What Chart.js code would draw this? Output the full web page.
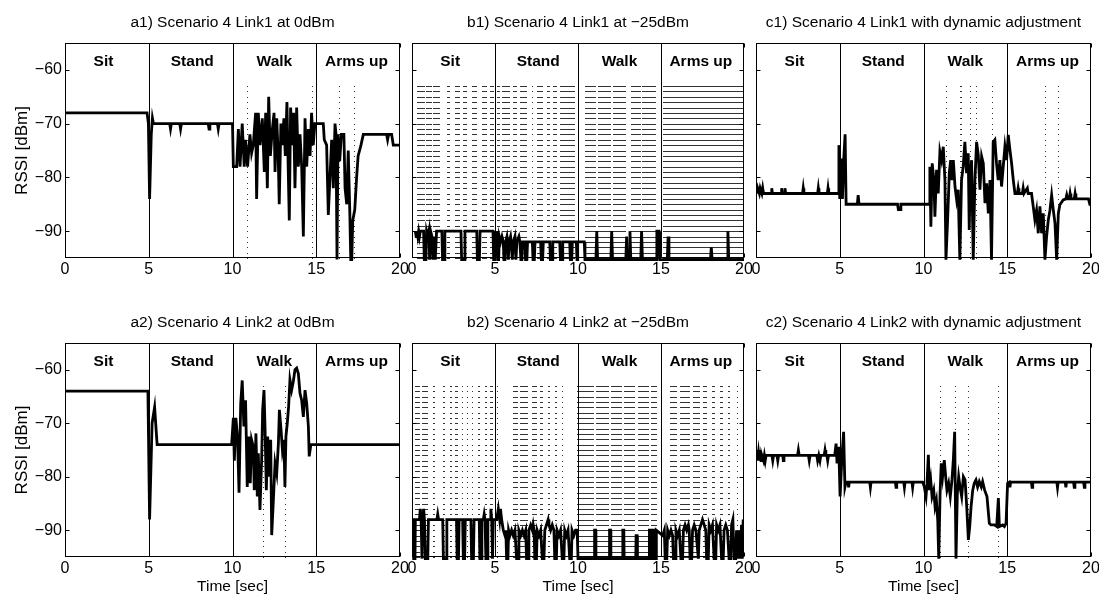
<!DOCTYPE html>
<html>
<head>
<meta charset="utf-8">
<title>Scenario 4 RSSI</title>
<script src="https://cdn.jsdelivr.net/npm/chart.js@4.4.1/dist/chart.umd.min.js"></script>
<style>
  html, body { margin: 0; padding: 0; background: #fff; overflow: hidden; }
  #fig { position: relative; width: 1099px; height: 602px; }
  #fig canvas { position: absolute; }
</style>
</head>
<body>
<div id="fig">
  <canvas id="a1"></canvas>
  <canvas id="b1"></canvas>
  <canvas id="c1"></canvas>
  <canvas id="a2"></canvas>
  <canvas id="b2"></canvas>
  <canvas id="c2"></canvas>
</div>
<script>
// ── Axes / phases ──
const xTicks = [0, 5, 10, 15, 20];
const yTicks = [-90, -80, -70, -60];
const yMin = -95;
const yMax = -55;
const phaseEdges = [5, 10, 15];
const phaseNames = ["Sit", "Stand", "Walk", "Arms up"];
const phaseLabelX = [2.3, 7.6, 12.5, 17.4];
const phaseLabelY = -58.5;
const lossTop = -63; // packet-loss markers run from here to the bottom
const L = -95.3;     // lost sample (just under the axis)

// ── RSSI traces: [time sec, dBm] ──
const a1Trace = [
  [0, -68], [4.9, -68], [4.98, -70], [5.05, -84], [5.1, -78], [5.15, -72], [5.22, -69], [5.28, -70],
  [6.25, -70], [6.3, -71], [6.35, -70], [6.85, -70], [6.9, -71], [6.95, -70], [8.55, -70], [8.6, -71],
  [8.65, -70], [9.1, -70], [9.15, -71], [9.2, -70], [10.0, -70], [10.05, -78], [10.25, -78], [10.35, -71],
  [10.45, -78], [10.58, -70], [10.7, -78], [10.78, -73], [10.9, -78], [11.04, -72], [11.14, -75.5],
  [11.24, -74], [11.38, -68], [11.44, -84], [11.54, -68], [11.64, -74], [11.78, -69], [11.9, -79],
  [11.98, -68], [12.08, -82], [12.16, -65], [12.26, -76], [12.38, -71], [12.48, -68], [12.54, -79],
  [12.64, -69], [12.73, -76], [12.79, -85], [12.89, -70], [12.97, -74], [13.07, -69], [13.15, -76],
  [13.25, -66], [13.33, -79], [13.39, -88], [13.47, -67], [13.57, -74], [13.65, -68], [13.73, -82],
  [13.83, -67], [13.93, -78], [14.03, -72], [14.13, -78], [14.23, -91], [14.33, -69], [14.43, -78],
  [14.53, -71], [14.63, -76], [14.72, -68], [14.82, -74], [14.92, -70], [15.0, -70], [15.42, -70],
  [15.48, -73], [15.62, -74], [15.72, -87], [15.82, -80], [15.92, -73], [16.02, -82], [16.12, -70],
  [16.18, -72], [16.24, L], [16.3, -72], [16.4, -77], [16.5, -72], [16.65, -72], [16.72, -82],
  [16.82, -85], [16.91, -75], [17.0, -86], [17.06, L], [17.12, L], [17.18, -88], [17.3, -86],
  [17.41, -80], [17.5, -76], [17.67, -74], [17.81, -72], [19.2, -72], [19.26, -73], [19.32, -72],
  [19.5, -72], [19.6, -74], [20, -74]
];

const b1Trace = [
  [0.2, -90], [0.25, -91], [0.3, -90], [0.35, -91], [0.4, -90], [0.45, -91], [0.5, -90], [0.7, -90],
  [0.74, L], [0.84, L], [0.88, -90], [0.96, -91], [1.02, -90], [1.06, L], [1.12, -90], [1.2, -91],
  [1.26, L], [1.34, -91], [1.4, L], [1.48, -90], [1.8, -90], [1.84, L], [1.94, L], [1.98, -90],
  [2.95, -90], [2.99, L], [3.15, L], [3.19, -90], [3.9, -90], [3.94, L], [4.06, L], [4.1, -90],
  [4.88, -90], [4.92, L], [4.98, L], [5.02, -90], [5.08, -92], [5.12, -90], [5.16, L], [5.22, L],
  [5.26, -91], [5.34, -92], [5.42, -91], [5.5, -92], [5.54, L], [5.6, L], [5.64, -92], [5.72, -91],
  [5.76, -92], [5.8, L], [5.86, -92], [5.94, -91], [5.98, -92], [6.04, L], [6.1, -92], [6.2, -91],
  [6.26, L], [6.32, -92], [6.44, -91], [6.5, -92], [6.56, L], [6.62, L], [6.66, -92], [6.8, -92],
  [6.84, L], [6.92, L], [6.96, -92], [7.25, -92], [7.29, L], [7.37, L], [7.41, -92], [7.75, -92],
  [7.79, L], [7.87, L], [7.91, -92], [8.3, -92], [8.34, L], [8.44, L], [8.48, -92], [8.9, -92],
  [8.94, L], [9.04, L], [9.08, -92], [9.5, -92], [9.54, L], [9.62, L], [9.66, -92], [9.9, -92],
  [9.94, L], [9.98, -92], [10.38, -92], [10.42, L], [11.08, L], [11.13, -90], [11.18, L], [11.98, L],
  [12.03, -90], [12.08, L], [12.88, L], [12.93, -91], [12.98, L], [13.08, L], [13.13, -90], [13.18, L],
  [13.78, L], [13.83, -90], [13.88, L], [14.7, L], [14.75, -90], [14.88, -90], [14.93, L], [15.38, L],
  [15.43, -91], [15.48, L], [17.98, L], [18.03, -93], [18.08, L], [18.98, L], [19.03, -90], [19.08, L],
  [20, L]
];

const c1Trace = [
  [0, -82], [0.05, -83], [0.1, -82], [0.2, -83], [0.25, -82], [0.35, -83], [0.4, -82], [0.45, -83],
  [0.9, -83], [0.94, -82], [0.98, -83], [1.5, -83], [1.53, -82], [1.57, -83], [1.7, -83], [1.73, -82],
  [1.77, -83], [2.78, -83], [2.82, -82], [2.86, -83], [3.68, -83], [3.72, -82], [3.76, -83], [4.26, -83],
  [4.3, -82], [4.34, -83], [4.92, -83], [4.95, -74], [5.0, -84], [5.08, -76.5], [5.16, -84], [5.24, -76.5],
  [5.32, -72], [5.38, -85], [6.05, -85], [6.1, -83.3], [6.15, -85], [8.45, -85], [8.5, -86], [8.6, -86],
  [8.65, -85], [10.36, -85], [10.38, -78], [10.44, -89.2], [10.52, -77.4], [10.62, -80.5], [10.68, -87.3],
  [10.78, -78.6], [10.88, -83], [10.98, -75.2], [11.08, -76.8], [11.18, -74.3], [11.28, -80.5], [11.34, L],
  [11.44, -87.9], [11.54, -79.2], [11.62, -76.8], [11.7, -80.5], [11.78, -76.8], [11.88, -81.7],
  [11.98, -84.2], [12.07, -82.3], [12.17, L], [12.27, -80.5], [12.37, -78], [12.47, -73.4], [12.57, -79.2],
  [12.67, -75.5], [12.73, -89.8], [12.79, -79.9], [12.87, -76.8], [12.97, L], [13.07, -80.5], [13.17, -73.4],
  [13.27, -75.8], [13.37, -82.3], [13.47, -76.1], [13.57, -77.4], [13.67, -84.8], [13.77, -81.1],
  [13.87, -86.7], [13.97, -80.5], [14.06, L], [14.16, -73.4], [14.26, -73], [14.36, -77.4], [14.46, -80.5],
  [14.56, -76.8], [14.66, -81.7], [14.76, -78], [14.86, -74.3], [14.96, -76.8], [15.06, -72.1],
  [15.16, -74.9], [15.26, -77.4], [15.36, -80.5], [15.46, -83], [15.6, -83], [15.65, -82], [15.7, -83],
  [15.9, -83], [15.95, -82], [16.0, -83], [16.2, -82], [16.25, -83], [16.45, -83], [16.55, -85.4],
  [16.65, -87.9], [16.75, -86.1], [16.85, -90.4], [16.95, -85.4], [17.05, -90.4], [17.15, -86.7],
  [17.25, L], [17.35, -91], [17.45, -87.9], [17.55, -86.1], [17.65, -83.3], [17.75, -86.1], [17.85, -88.5],
  [17.95, L], [18.05, -86.7], [18.14, -85.1], [18.34, -84.2], [18.5, -84], [18.55, -83.3], [18.6, -84],
  [18.7, -84], [18.75, -83], [18.8, -84], [19.0, -84], [19.05, -83], [19.1, -84], [19.85, -84],
  [19.93, -85], [20, -85]
];

const a2Trace = [
  [0, -64], [4.95, -64], [5.05, -88], [5.2, -70], [5.35, -67], [5.5, -74], [9.95, -74], [10.05, -69],
  [10.11, -77], [10.2, -69], [10.3, -72.5], [10.39, -83], [10.49, -66.3], [10.58, -62], [10.68, -70.6],
  [10.78, -65.7], [10.88, -81.9], [10.98, -72.5], [11.06, -81.2], [11.14, -73.1], [11.24, -74.4],
  [11.3, -82.5], [11.4, -71.9], [11.48, -83.7], [11.54, -75.6], [11.64, -86.2], [11.74, -76.9],
  [11.8, -67.5], [11.88, -63.8], [11.94, -70.6], [12.02, -82.5], [12.1, -72.5], [12.2, -80], [12.28, -73.1],
  [12.34, -90.9], [12.44, -84.4], [12.54, -77.5], [12.64, -79.4], [12.74, -73.8], [12.8, -67.5],
  [12.9, -71.3], [12.98, -75], [13.07, -73.1], [13.13, -81.9], [13.19, -72.5], [13.27, -70], [13.35, -66.9],
  [13.43, -61.9], [13.53, -63.8], [13.63, -62.2], [13.73, -60], [13.83, -59.7], [13.93, -60.7],
  [14.03, -64.4], [14.13, -65.7], [14.23, -68.8], [14.33, -63.8], [14.43, -66.3], [14.53, -70.6],
  [14.58, -76.2], [14.68, -74], [20, -74]
];

const b2Trace = [
  [0, -88], [0.08, -88], [0.1, L], [0.18, L], [0.2, -88], [0.45, -88], [0.5, -86], [0.55, -88], [0.6, L],
  [0.64, -88], [0.7, -86], [0.75, -88], [0.8, L], [0.95, L], [0.99, -88], [1.5, -88], [1.55, -87],
  [1.6, -88], [1.85, -88], [1.89, L], [2.06, L], [2.1, -88], [2.68, -88], [2.72, L], [2.8, L], [2.84, -88],
  [3.05, -88], [3.09, L], [3.17, L], [3.21, -88], [3.55, -88], [3.59, L], [3.7, L], [3.74, -88],
  [4.05, -88], [4.09, L], [4.17, L], [4.21, -88], [4.3, -88], [4.35, -87], [4.4, -88], [4.45, L],
  [4.53, L], [4.57, -88], [4.7, -88], [4.75, -86], [4.8, -88], [4.85, L], [4.9, -88], [5.1, -88],
  [5.2, -86], [5.28, -88], [5.33, -86], [5.4, -88], [5.5, -90], [5.6, -91], [5.65, -90], [5.7, L],
  [5.78, L], [5.82, -90], [5.9, -91], [6.0, -90], [6.1, -91], [6.2, -90], [6.3, L], [6.4, L], [6.44, -90],
  [6.55, -91], [6.65, -90], [6.75, -91], [6.85, -90], [6.9, L], [7.0, L], [7.04, -90], [7.15, -89],
  [7.25, -90], [7.3, -89], [7.35, -90], [7.4, L], [7.5, L], [7.54, -90], [7.65, -91], [7.75, -90],
  [7.85, L], [7.95, L], [8.0, -90], [8.1, -89], [8.2, -88], [8.25, -89], [8.35, -90], [8.45, -89],
  [8.55, -90], [8.6, L], [8.7, L], [8.74, -90], [8.85, -91], [8.95, -90], [9.05, L], [9.15, L], [9.2, -90],
  [9.3, -91], [9.4, -90], [9.5, L], [9.6, L], [9.64, -90], [9.75, -91], [9.85, -90], [9.95, -90],
  [10.0, L], [10.98, L], [11.0, -90], [11.06, -90], [11.08, L], [11.88, L], [11.9, -90], [11.96, -90],
  [11.98, L], [12.68, L], [12.7, -90], [12.76, -90], [12.78, L], [13.48, L], [13.5, -91], [13.56, -91],
  [13.58, L], [14.28, L], [14.3, -90], [14.36, -90], [14.38, L], [14.48, L], [14.5, -90], [14.6, -90],
  [14.62, L], [14.7, L], [14.72, -90], [15.1, -91], [15.2, -90], [15.25, L], [15.35, L], [15.4, -90],
  [15.5, -91], [15.6, -90], [15.7, -91], [15.75, L], [15.85, L], [15.9, -90], [16.0, -91], [16.1, -90],
  [16.2, L], [16.3, L], [16.35, -90], [16.45, -89], [16.55, -90], [16.65, -89], [16.7, -90], [16.75, L],
  [16.85, L], [16.9, -90], [17.0, -89], [17.1, -90], [17.25, L], [17.3, -90], [17.4, -89], [17.5, -88],
  [17.6, -89], [17.7, -90], [17.75, L], [17.85, L], [17.9, -89], [18.0, -90], [18.1, -89], [18.2, L],
  [18.3, L], [18.35, -89], [18.45, -90], [18.55, -89], [18.65, L], [18.75, L], [18.8, -90], [18.9, -89],
  [19.0, -90], [19.1, L], [19.2, L], [19.25, -89], [19.33, -88], [19.4, L], [19.5, L], [19.55, -90],
  [19.65, L], [19.72, -90], [19.8, L], [19.85, -89], [19.9, L], [19.95, -88], [20, -90]
];

const c2Trace = [
  [0, -76], [0.05, -75], [0.1, -77], [0.15, -75.5], [0.2, -77], [0.25, -75], [0.3, -77], [0.35, -76],
  [0.45, -77], [0.5, -76], [0.55, -77], [0.6, -76], [0.95, -76], [1.0, -77], [1.05, -76], [1.25, -76],
  [1.3, -77], [1.35, -76], [1.6, -76], [1.63, -77], [1.67, -76], [2.48, -76], [2.53, -75], [2.58, -76],
  [3.13, -76], [3.18, -77], [3.23, -76], [3.63, -76], [3.68, -77], [3.75, -76], [3.82, -77], [3.87, -76],
  [4.07, -76], [4.12, -75], [4.17, -76], [4.23, -76], [4.28, -77], [4.33, -76], [4.7, -76], [4.78, -73.8],
  [4.84, -77.5], [4.94, -74.4], [5.02, -83.7], [5.13, -76.3], [5.23, -71.6], [5.31, -81.9], [5.37, -81],
  [5.5, -81], [5.53, -82], [5.57, -81], [6.79, -81], [6.83, -82], [6.87, -81], [8.32, -81], [8.36, -82],
  [8.4, -81], [8.82, -81], [8.86, -82], [8.9, -81], [9.31, -81], [9.35, -82], [9.39, -81], [9.95, -81],
  [10.05, -81.9], [10.15, -83.7], [10.21, -81.2], [10.29, -75.9], [10.35, -82.5], [10.43, -80.6],
  [10.51, -83.7], [10.61, -82.5], [10.69, -85.6], [10.77, -84.4], [10.85, -88.1], [10.91, L],
  [10.99, -83.1], [11.06, -77.5], [11.14, -80], [11.24, -76.9], [11.34, -80.6], [11.4, -82.5],
  [11.5, -81.2], [11.6, -83.7], [11.7, -80.6], [11.78, -76.9], [11.86, -71.6], [11.94, L], [12.02, -83.1],
  [12.1, -80], [12.18, -81.9], [12.28, -83.7], [12.38, -80], [12.48, -80.6], [12.58, -85.6], [12.68, -91.8],
  [12.76, -89.3], [12.84, -85.6], [12.94, -82.5], [13.03, -81.2], [13.13, -80.6], [13.23, -81.9],
  [13.33, -80.9], [13.45, -81.9], [13.53, -80.9], [13.65, -82.5], [13.79, -83.7], [13.93, -88.7],
  [14.03, -89], [14.23, -89], [14.37, -89.3], [14.47, -84], [14.53, -89.3], [14.73, -89], [14.83, -89.3],
  [14.93, -88.7], [15.02, -81.2], [15.12, -81], [15.16, -82], [15.2, -81], [16.44, -81], [16.48, -82],
  [16.52, -81], [17.96, -81], [18.0, -82], [18.04, -81], [18.46, -81], [18.5, -82], [18.54, -81],
  [18.96, -81], [19.0, -82], [19.04, -81], [19.56, -81], [19.6, -82], [19.64, -81], [20, -81]
];

// ── Packet-loss intervals [start, end] in sec ──
const a1Loss = [[10.84, 10.84], [14.76, 14.76], [16.35, 16.35], [17.27, 17.27]];
const b1Loss = [
  [0.28, 0.79], [0.85, 1.19], [1.29, 1.69], [2.09, 2.29], [2.59, 2.89], [3.1, 3.3], [3.6, 3.9],
  [4.2, 4.54], [4.7, 4.94], [5.1, 5.3], [5.4, 5.9], [6.1, 6.3], [6.51, 6.91], [7.21, 7.31], [7.51, 7.91],
  [8.12, 8.32], [8.52, 8.72], [8.92, 9.82], [10.42, 11.08], [11.18, 11.98], [12.08, 12.88],
  [13.18, 13.78], [13.88, 14.7], [15.14, 20]
];
const c1Loss = [[11.32, 11.36], [12.18, 12.3], [12.77, 12.79], [13.13, 13.15], [14.06, 14.08], [17.27, 17.33], [18.0, 18.06]];
const a2Loss = [[11.84, 11.84], [13.13, 13.13]];
const b2Loss = [
  [0.18, 0.28], [0.32, 0.48], [0.59, 0.99], [1.29, 1.39], [1.89, 1.99], [2.29, 2.39], [2.59, 2.79],
  [3.0, 3.1], [3.3, 3.4], [3.6, 3.7], [4.0, 4.1], [4.4, 4.5], [4.7, 4.9], [5.1, 5.2], [6.11, 6.41],
  [6.51, 7.01], [7.21, 7.51], [7.71, 7.87], [8.22, 8.32], [8.62, 8.72], [9.02, 9.12], [9.95, 10.95],
  [11.1, 11.85], [12.0, 12.65], [12.8, 13.45], [13.6, 14.25], [14.4, 14.75], [15.55, 15.95],
  [16.15, 16.75], [16.95, 17.35], [17.55, 17.75], [18.05, 18.25], [18.56, 18.76], [19.06, 19.16],
  [19.56, 19.66]
];
const c2Loss = [[10.97, 11.03], [11.87, 11.93], [12.66, 12.7], [14.45, 14.49]];

// ── Layout (pixels) ──
const colLeft = [65, 412, 756];
const colRight = [400, 744, 1091];
const plotH = [215, 214];
const FONT = '"Liberation Sans", Arial, sans-serif';

Chart.defaults.font.family = FONT;
Chart.defaults.color = "#000";

// draws loss markers, phase separators, frame with inward ticks and panel title
const decor = {
  id: "decor",
  beforeDatasetsDraw(chart, args, opts) {
    const { ctx, chartArea: a, scales: { x, y } } = chart;
    ctx.save();
    ctx.fillStyle = "#333";
    for (const [s, e] of opts.loss) {
      const x0 = Math.round(x.getPixelForValue(s));
      const w = Math.max(1, Math.round(x.getPixelForValue(e)) - x0);
      for (let v = lossTop; v >= yMin; v--) {
        ctx.fillRect(x0, Math.round(y.getPixelForValue(v)), w, 1);
      }
    }
    ctx.strokeStyle = "#000";
    ctx.lineWidth = 1;
    for (const p of phaseEdges) {
      const px = Math.round(x.getPixelForValue(p)) + 0.5;
      ctx.beginPath();
      ctx.moveTo(px, a.top);
      ctx.lineTo(px, a.bottom);
      ctx.stroke();
    }
    ctx.font = "bold 15.5px " + FONT;
    ctx.fillStyle = "#000";
    ctx.textAlign = "center";
    ctx.textBaseline = "middle";
    phaseNames.forEach((n, i) => {
      ctx.fillText(n, x.getPixelForValue(phaseLabelX[i]), y.getPixelForValue(phaseLabelY));
    });
    ctx.restore();
  },
  afterDraw(chart, args, opts) {
    const { ctx, chartArea: a, scales: { x, y } } = chart;
    const l = Math.round(a.left) + 0.5, r = Math.round(a.right) - 0.5;
    const t = Math.round(a.top) + 0.5, b = Math.round(a.bottom) - 0.5;
    ctx.save();
    ctx.strokeStyle = "#000";
    ctx.lineWidth = 1;
    ctx.strokeRect(l, t, r - l, b - t);
    ctx.beginPath();
    for (const v of xTicks) {
      const px = Math.round(x.getPixelForValue(v)) + 0.5;
      ctx.moveTo(px, b); ctx.lineTo(px, b - 4);
      ctx.moveTo(px, t); ctx.lineTo(px, t + 4);
    }
    for (const v of yTicks) {
      const py = Math.round(y.getPixelForValue(v)) + 0.5;
      ctx.moveTo(l, py); ctx.lineTo(l + 4, py);
      ctx.moveTo(r, py); ctx.lineTo(r - 4, py);
    }
    ctx.stroke();
    ctx.font = "15.5px " + FONT;
    ctx.fillStyle = "#000";
    ctx.textAlign = "center";
    ctx.textBaseline = "middle";
    ctx.fillText(opts.title, (a.left + a.right) / 2, a.top - 20);
    ctx.restore();
  },
};

function makePanel(p) {
  const cv = document.getElementById(p.id);
  const first = p.col === 0;
  const cLeft = first ? 0 : colLeft[p.col] - 15;
  cv.width = colRight[p.col] + 15 - cLeft;
  cv.height = 300;
  cv.style.left = cLeft + "px";
  cv.style.top = p.row * 300 + "px";
  const xAxisH = 300 - 43 - plotH[p.row];

  new Chart(cv, {
    type: "line",
    data: {
      datasets: [
        {
          data: p.trace.map(([t, v]) => ({ x: t, y: v })),
          borderColor: "#000",
          borderWidth: 2.8,
          pointRadius: 0,
          tension: 0,
          clip: { left: 0, top: 0, right: 0, bottom: 3 },
        },
      ],
    },
    options: {
      responsive: false,
      animation: false,
      devicePixelRatio: 1,
      layout: { padding: { left: first ? 0 : 15, right: 15, top: 43, bottom: 0 } },
      plugins: {
        legend: { display: false },
        tooltip: { enabled: false },
        decor: { title: p.title, loss: p.loss },
      },
      scales: {
        x: {
          type: "linear",
          min: 0,
          max: 20,
          afterBuildTicks: (s) => { s.ticks = xTicks.map((v) => ({ value: v })); },
          afterFit: (s) => { s.height = xAxisH; },
          grid: { display: false, drawTicks: false },
          border: { display: false },
          ticks: { font: { size: 16 }, padding: 2, maxRotation: 0, autoSkip: false },
          title: {
            display: p.row === 1,
            text: "Time [sec]",
            font: { size: 15.5 },
            padding: { top: 0, bottom: 4 },
          },
        },
        y: {
          display: first,
          min: yMin,
          max: yMax,
          afterBuildTicks: (s) => { s.ticks = yTicks.map((v) => ({ value: v })); },
          afterFit: (s) => { s.width = first ? 65 : 0; },
          grid: { display: false, drawTicks: false },
          border: { display: false },
          ticks: {
            font: { size: 16 },
            padding: 3,
            callback: (v) => (v < 0 ? "\u2212" + Math.abs(v) : String(v)),
          },
          title: {
            display: true,
            text: "RSSI [dBm]",
            font: { size: 17 },
            padding: { top: 12, bottom: 0 },
          },
        },
      },
    },
    plugins: [decor],
  });
}

[
  { id: "a1", row: 0, col: 0, title: "a1) Scenario 4 Link1 at 0dBm", trace: a1Trace, loss: a1Loss },
  { id: "b1", row: 0, col: 1, title: "b1) Scenario 4 Link1 at \u221225dBm", trace: b1Trace, loss: b1Loss },
  { id: "c1", row: 0, col: 2, title: "c1) Scenario 4 Link1 with dynamic adjustment", trace: c1Trace, loss: c1Loss },
  { id: "a2", row: 1, col: 0, title: "a2) Scenario 4 Link2 at 0dBm", trace: a2Trace, loss: a2Loss },
  { id: "b2", row: 1, col: 1, title: "b2) Scenario 4 Link2 at \u221225dBm", trace: b2Trace, loss: b2Loss },
  { id: "c2", row: 1, col: 2, title: "c2) Scenario 4 Link2 with dynamic adjustment", trace: c2Trace, loss: c2Loss },
].forEach(makePanel);
</script>
</body>
</html>
